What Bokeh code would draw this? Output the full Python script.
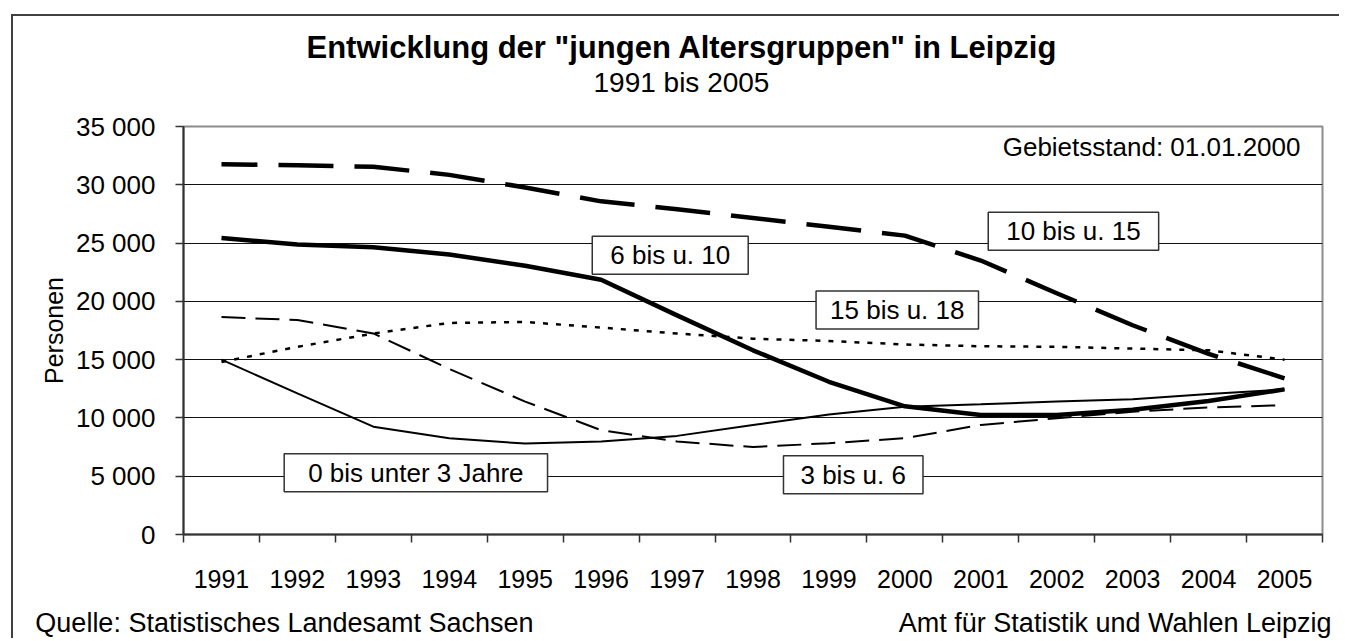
from bokeh.plotting import figure
from bokeh.models import Range1d, FixedTicker, Label, Title, LinearAxis
from bokeh.embed import file_html
from bokeh.resources import INLINE

# ---- data -------------------------------------------------------------
years = [1991, 1992, 1993, 1994, 1995, 1996, 1997, 1998, 1999, 2000,
         2001, 2002, 2003, 2004, 2005]

age_0_3 = [15000, 12100, 9250, 8250, 7800, 7980, 8460, 9400, 10300, 10950,
           11170, 11400, 11600, 12050, 12450]
age_3_6 = [18650, 18400, 17250, 14200, 11400, 8950, 7980, 7500, 7830, 8260,
           9400, 9970, 10540, 10900, 11100]
age_6_10 = [25440, 24870, 24640, 24020, 23050, 21850, 18800, 15800, 13100, 11000,
            10260, 10260, 10700, 11450, 12450]
age_10_15 = [31770, 31680, 31540, 30850, 29770, 28580, 27900, 27150, 26400, 25640,
             23500, 20700, 17950, 15500, 13400]
age_15_18 = [14800, 16100, 17240, 18150, 18230, 17750, 17240, 16800, 16600, 16300,
             16150, 16100, 15950, 15800, 15000]

y_ticks = [0, 5000, 10000, 15000, 20000, 25000, 30000, 35000]
y_tick_labels = ["0", "5 000", "10 000", "15 000", "20 000", "25 000", "30 000", "35 000"]

title_text = 'Entwicklung der "jungen Altersgruppen" in Leipzig'
subtitle_text = "1991 bis 2005"
source_text = "Quelle: Statistisches Landesamt Sachsen"
author_text = "Amt für Statistik und Wahlen Leipzig"
note_text = "Gebietsstand: 01.01.2000"
series_names = ["0 bis unter 3 Jahre", "3 bis u. 6", "6 bis u. 10", "10 bis u. 15", "15 bis u. 18"]

FONT = "Liberation Sans"

# ---- figure -------------------------------------------------------------
p = figure(width=1328, height=624, output_backend="svg", toolbar_location=None,
           x_range=Range1d(1990.5, 2005.5), y_range=Range1d(0, 35000),
           min_border_left=170, min_border_top=110, min_border_right=19,
           min_border_bottom=105)
p.styles = {"box-shadow": "-2px -2px 0px 0px #404040",
            "margin-left": "13px", "margin-top": "16px"}
p.background_fill_color = "white"
p.border_fill_color = "white"
p.outline_line_color = "#8c8c8c"
p.outline_line_width = 2

# x axis: labels at category centres, tick marks between categories
p.xaxis.ticker = FixedTicker(ticks=years,
                             minor_ticks=[y - 0.5 for y in years] + [years[-1] + 0.5])
p.xaxis.major_label_overrides = {y: str(y) for y in years}
p.xaxis.major_tick_out = 0
p.xaxis.major_tick_in = 0
p.xaxis.minor_tick_out = 8
p.xaxis.minor_tick_in = 0
p.xaxis.minor_tick_line_color = "#333333"
p.xaxis.minor_tick_line_width = 1.5
p.xaxis.axis_line_color = "#333333"
p.xaxis.axis_line_width = 2
p.xaxis.major_label_text_font = FONT
p.xaxis.major_label_text_font_size = "25px"
p.xaxis.major_label_text_color = "black"
p.xaxis.major_label_standoff = 27

# y axis
p.yaxis.ticker = FixedTicker(ticks=y_ticks)
p.yaxis.major_label_overrides = dict(zip(y_ticks, y_tick_labels))
p.yaxis.major_tick_out = 8
p.yaxis.major_tick_in = 0
p.yaxis.major_tick_line_color = "#333333"
p.yaxis.major_tick_line_width = 1.5
p.yaxis.minor_tick_out = 0
p.yaxis.minor_tick_in = 0
p.yaxis.axis_line_color = "#333333"
p.yaxis.axis_line_width = 2
p.yaxis.major_label_text_font = FONT
p.yaxis.major_label_text_font_size = "26px"
p.yaxis.major_label_text_color = "black"
p.yaxis.major_label_standoff = 20
p.yaxis.axis_label = "Personen"
p.yaxis.axis_label_text_font = FONT
p.yaxis.axis_label_text_font_size = "25px"
p.yaxis.axis_label_text_font_style = "normal"
p.yaxis.axis_label_text_color = "black"
p.yaxis.axis_label_standoff = 5

p.xgrid.visible = False
p.ygrid.ticker = FixedTicker(ticks=y_ticks)
p.ygrid.grid_line_color = "#111111"
p.ygrid.grid_line_width = 1

# ---- series -------------------------------------------------------------
p.line(years, age_10_15, line_color="black", line_width=4.5, line_dash="55 21",
       line_dash_offset=19, line_join="round")
p.line(years, age_6_10, line_color="black", line_width=4.5, line_join="round")
p.line(years, age_15_18, line_color="black", line_width=2.5, line_dash="5 8")
p.line(years, age_3_6, line_color="black", line_width=2, line_dash="24 10")
p.line(years, age_0_3, line_color="black", line_width=2)

# ---- series labels (boxes) ---------------------------------------------
box_pos = [(1993.56, 5300), (1999.32, 5130), (1996.91, 23960), (2002.22, 26010), (1999.90, 19250)]
box_pad = [24, 17, 18, 18, 14]
for name, (bx, by), hp in zip(series_names, box_pos, box_pad):
    p.add_layout(Label(x=bx, y=by, text=name, text_align="center", text_baseline="middle",
                       text_font=FONT, text_font_size="26px", text_color="black",
                       background_fill_color="white", border_line_color="#333333",
                       border_line_width=1.5,
                       padding=dict(left=hp, right=hp, top=4, bottom=4)))

p.add_layout(Label(x=2005.21, y=33200, text=note_text, text_align="right",
                   text_baseline="middle", text_font=FONT, text_font_size="26px",
                   text_color="black"))

# ---- titles (stacked above the frame, innermost first) ------------------
p.add_layout(Title(text=" ", align="left", standoff=16, text_font=FONT,
                   text_font_size="10px"), "above")          # spacer
p.add_layout(Title(text=subtitle_text, align="left", offset=410, standoff=0,
                   text_font=FONT, text_font_size="28px", text_font_style="normal",
                   text_color="black"), "above")
p.add_layout(Title(text=title_text, align="left", offset=123, standoff=0,
                   text_font=FONT, text_font_size="31px", text_font_style="bold",
                   text_color="black"), "above")

# ---- footer: extra axis carrying the two source notes -------------------
footer_pos = [1991.83, 2002.77]
footer_axis = LinearAxis(ticker=FixedTicker(ticks=footer_pos),
                         major_label_overrides=dict(zip(footer_pos, [source_text, author_text])),
                         axis_line_color=None, major_tick_line_color=None,
                         minor_tick_line_color=None, major_label_standoff=11,
                         major_label_text_font=FONT, major_label_text_font_size="27px",
                         major_label_text_color="black")
p.add_layout(footer_axis, "below")

open("out.html", "w").write(file_html(p, INLINE))
